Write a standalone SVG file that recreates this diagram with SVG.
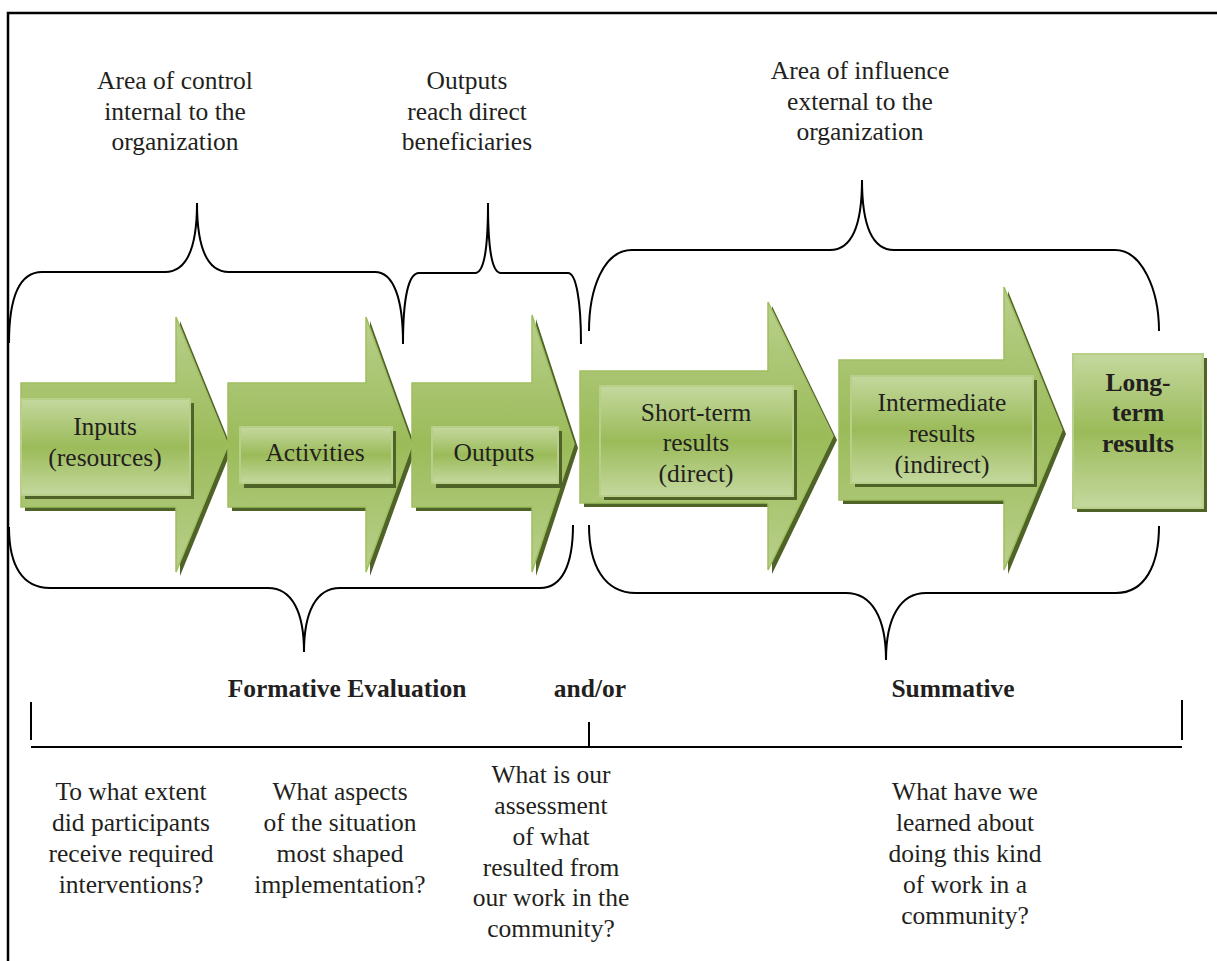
<svg xmlns="http://www.w3.org/2000/svg" width="1217" height="961" viewBox="0 0 1217 961">
<defs>
<linearGradient id="gArrow" x1="0" y1="0" x2="0" y2="1">
<stop offset="0" stop-color="#b9d08c"/>
<stop offset="0.5" stop-color="#9bbb59"/>
<stop offset="1" stop-color="#b9d08c"/>
</linearGradient>
<linearGradient id="gBox" x1="0" y1="0" x2="0" y2="1">
<stop offset="0" stop-color="#c4d89e"/>
<stop offset="0.5" stop-color="#9bbb59"/>
<stop offset="1" stop-color="#c4d89e"/>
</linearGradient>
<style>
.t{font-family:"Liberation Serif","Times New Roman",serif;font-size:25.5px;fill:#231f20;text-anchor:middle}
.b{font-weight:bold}
.arrow{fill:url(#gArrow);stroke:#9fbf5f;stroke-width:1.5}
.box{fill:url(#gBox);stroke:#b8cf8a;stroke-width:2}
.shadow{fill:#4f6228}
.br{fill:none;stroke:#000;stroke-width:2}
.ln{fill:none;stroke:#000;stroke-width:2}
</style>
</defs>
<rect width="1217" height="961" fill="#fff"/>
<path d="M8,961 L8,13 L1217,13" fill="none" stroke="#000" stroke-width="2.5"/>

<g id="connectors">
<path class="br" d="M9,343 C9,300 18,272 42,272 L165,272 C186,272 197,250 197,203 C197,250 208,272 229,272 L375,272 C394,272 403,300 403,343"/>
<path class="br" d="M403,344 C403,300 408,273 419,273 L475,273 C484,273 488,250 488,203 C488,250 492,273 501,273 L568,273 C576,273 581,300 581,344"/>
<path class="br" d="M589,331 C589,290 603,250 632,250 L830,250 C852,250 862,225 862,180 C862,225 872,250 894,250 L1115,250 C1142,250 1159,290 1159,331"/>
<path class="br" d="M9,527 C9,565 22,588 50,588 L268,588 C292,588 304,612 304,652 C304,612 316,588 340,588 L540,588 C562,588 573,565 573,525"/>
<path class="br" d="M589,525 C589,565 604,593 636,593 L846,593 C872,593 886,618 886,660 C886,618 900,593 926,593 L1116,593 C1145,593 1159,565 1159,526"/>
<line class="ln" x1="31" y1="747" x2="1182" y2="747"/>
<line class="ln" x1="31" y1="702" x2="31" y2="740"/>
<line class="ln" x1="589" y1="722" x2="589" y2="747"/>
<line class="ln" x1="1182" y1="700" x2="1182" y2="740"/>
</g>

<g id="label-control">
<text class="t" x="175" y="89">Area of control</text>
<text class="t" x="175" y="120">internal to the</text>
<text class="t" x="175" y="150">organization</text>
</g>
<g id="label-outputs-reach">
<text class="t" x="467" y="89">Outputs</text>
<text class="t" x="467" y="120">reach direct</text>
<text class="t" x="467" y="150">beneficiaries</text>
</g>
<g id="label-influence">
<text class="t" x="860" y="79">Area of influence</text>
<text class="t" x="860" y="110">external to the</text>
<text class="t" x="860" y="140">organization</text>
</g>

<g id="node-inputs">
<polygon class="shadow" points="25,387 180,387 180,321 232,449 180,576 180,511 25,511"/>
<polygon class="arrow" points="21,383 176,383 176,317 228,445 176,572 176,507 21,507"/>
<rect class="shadow" x="25" y="403" width="169" height="96"/>
<rect class="box" x="21" y="399" width="169" height="96"/>
<text class="t" x="105" y="435">Inputs</text>
<text class="t" x="105" y="466">(resources)</text>
</g>

<g id="node-activities">
<polygon class="shadow" points="232,387 370,387 370,321 416,449 370,576 370,511 232,511"/>
<polygon class="arrow" points="228,383 366,383 366,317 412,445 366,572 366,507 228,507"/>
<rect class="shadow" x="244" y="431" width="152" height="57"/>
<rect class="box" x="240" y="427" width="152" height="56"/>
<text class="t" x="315" y="461">Activities</text>
</g>

<g id="node-outputs">
<polygon class="shadow" points="416,387 536,387 536,319 578,448 536,576 536,511 416,511"/>
<polygon class="arrow" points="412,383 532,383 532,315 574,444 532,572 532,507 412,507"/>
<rect class="shadow" x="436" y="431" width="126" height="57"/>
<rect class="box" x="432" y="427" width="126" height="56"/>
<text class="t" x="494" y="461">Outputs</text>
</g>

<g id="node-short-term">
<polygon class="shadow" points="584,375 772,375 772,306 837,440 772,574 772,507 584,507"/>
<polygon class="arrow" points="580,371 768,371 768,302 833,436 768,570 768,503 580,503"/>
<rect class="shadow" x="604" y="390" width="193" height="110"/>
<rect class="box" x="600" y="386" width="193" height="110"/>
<text class="t" x="696" y="421">Short-term</text>
<text class="t" x="696" y="451">results</text>
<text class="t" x="696" y="482">(direct)</text>
</g>

<g id="node-intermediate">
<polygon class="shadow" points="843,364 1008,364 1008,291 1066,434 1008,574 1008,504 843,504"/>
<polygon class="arrow" points="839,360 1004,360 1004,287 1062,430 1004,570 1004,500 839,500"/>
<rect class="shadow" x="855" y="380" width="182" height="107"/>
<rect class="box" x="851" y="376" width="182" height="107"/>
<text class="t" x="942" y="411">Intermediate</text>
<text class="t" x="942" y="442">results</text>
<text class="t" x="942" y="473">(indirect)</text>
</g>

<g id="node-long-term">
<rect class="shadow" x="1077" y="358" width="130" height="154"/>
<rect class="box" x="1073" y="354" width="130" height="154"/>
<text class="t b" x="1138" y="391">Long-</text>
<text class="t b" x="1138" y="421">term</text>
<text class="t b" x="1138" y="452">results</text>
</g>

<g id="label-formative"><text class="t b" x="347" y="697">Formative Evaluation</text></g>
<g id="label-andor"><text class="t b" x="590" y="697">and/or</text></g>
<g id="label-summative"><text class="t b" x="953" y="697">Summative</text></g>

<g id="q1">
<text class="t" x="131" y="800">To what extent</text>
<text class="t" x="131" y="831">did participants</text>
<text class="t" x="131" y="862">receive required</text>
<text class="t" x="131" y="893">interventions?</text>
</g>
<g id="q2">
<text class="t" x="340" y="800">What aspects</text>
<text class="t" x="340" y="831">of the situation</text>
<text class="t" x="340" y="862">most shaped</text>
<text class="t" x="340" y="893">implementation?</text>
</g>
<g id="q3">
<text class="t" x="551" y="783">What is our</text>
<text class="t" x="551" y="814">assessment</text>
<text class="t" x="551" y="845">of what</text>
<text class="t" x="551" y="876">resulted from</text>
<text class="t" x="551" y="906">our work in the</text>
<text class="t" x="551" y="937">community?</text>
</g>
<g id="q4">
<text class="t" x="965" y="800">What have we</text>
<text class="t" x="965" y="831">learned about</text>
<text class="t" x="965" y="862">doing this kind</text>
<text class="t" x="965" y="893">of work in a</text>
<text class="t" x="965" y="924">community?</text>
</g>
</svg>
